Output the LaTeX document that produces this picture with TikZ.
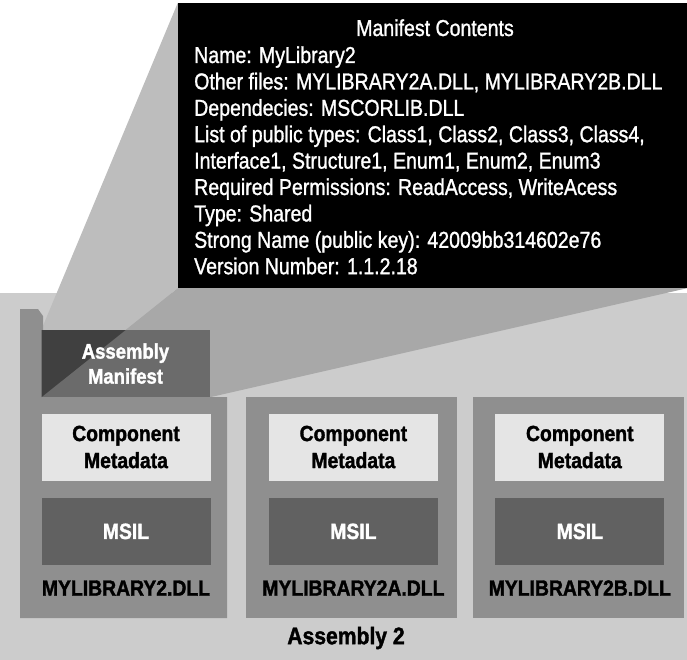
\documentclass[tikz,border=0pt]{standalone}
\usepackage{fontspec}
\setmainfont{Liberation Sans}[FakeStretch=0.85, FakeBold=1.2]
\newfontfamily\labelfont{Liberation Sans}[FakeStretch=0.88, FakeBold=1.5]
\usetikzlibrary{positioning,backgrounds}

\definecolor{panelgray}{gray}{0.80}
\definecolor{beamside}{gray}{0.74}
\definecolor{beambase}{gray}{0.66}
\definecolor{framegray}{gray}{0.56}
\definecolor{manigray}{gray}{0.42}
\definecolor{manidark}{gray}{0.25}
\definecolor{metagray}{gray}{0.90}
\definecolor{msilgray}{gray}{0.38}

\tikzset{
  entry/.style={anchor=base west, inner sep=0pt, text=white,
    font=\fontsize{23}{26.4}\selectfont},
  frame/.style={fill=framegray, minimum width=211pt, minimum height=221pt,
    inner sep=0pt},
  box/.style={minimum width=169pt, minimum height=67pt, inner sep=0pt,
    align=center},
  metabox/.style={box, fill=metagray,
    font=\labelfont\bfseries\fontsize{22}{27}\selectfont},
  msilbox/.style={box, fill=msilgray, text=white,
    font=\labelfont\bfseries\fontsize{22}{27}\selectfont},
  manibox/.style={box, fill=manigray, text=white, minimum width=168pt,
    font=\labelfont\bfseries\fontsize{21}{25}\selectfont},
  dllname/.style={inner sep=0pt,
    font=\labelfont\bfseries\fontsize{22}{27}\selectfont}
}

\begin{document}
\begin{tikzpicture}[x=1pt, y=-1pt]
  \useasboundingbox (0,0) rectangle (687,660);

  % manifest contents
  \node [fill=black, minimum width=509pt, minimum height=285pt,
    inner sep=0pt] (contents) at (432.5,145.5) {};
  \node [entry, anchor=base] (title) at (435,36) {Manifest Contents};
  \node [entry] (name) at (194,63) {Name: MyLibrary2};
  \node [entry] (other) at ([yshift=-26.4pt]name.base west)
    {Other files: MYLIBRARY2A.DLL, MYLIBRARY2B.DLL};
  \node [entry] (deps) at ([yshift=-26.4pt]other.base west)
    {Dependecies: MSCORLIB.DLL};
  \node [entry] (types) at ([yshift=-26.4pt]deps.base west)
    {List of public types: Class1, Class2, Class3, Class4,};
  \node [entry] (types2) at ([yshift=-26.4pt]types.base west)
    {Interface1, Structure1, Enum1, Enum2, Enum3};
  \node [entry] (perms) at ([yshift=-26.4pt]types2.base west)
    {Required Permissions: ReadAccess, WriteAcess};
  \node [entry] (type) at ([yshift=-26.4pt]perms.base west)
    {Type: Shared};
  \node [entry] (strong) at ([yshift=-26.4pt]type.base west)
    {Strong Name (public key): 42009bb314602e76};
  \node [entry] (version) at ([yshift=-26.4pt]strong.base west)
    {Version Number: 1.1.2.18};

  % the three files
  \fill [framegray] (20,309) -- (38,309) -- (43,316) -- (43,397)
    -- (227,397) -- (227,618) -- (20,618) -- cycle;
  \node [frame] (frame2a) at (351,507.5) {};
  \node [frame] (frame2b) at (578,507.5) {};

  \node [metabox] (meta1) at (126,447) {Component\\Metadata};
  \node [metabox, right=58pt of meta1] (meta2) {Component\\Metadata};
  \node [metabox, right=57pt of meta2] (meta3) {Component\\Metadata};

  \node [msilbox, below=17pt of meta1] (msil1) {MSIL};
  \node [msilbox, below=17pt of meta2] (msil2) {MSIL};
  \node [msilbox, below=17pt of meta3] (msil3) {MSIL};

  \node [dllname, below=15pt of msil1] (dll1) {MYLIBRARY2.DLL};
  \node [dllname, below=15pt of msil2] (dll2) {MYLIBRARY2A.DLL};
  \node [dllname, below=15pt of msil3] (dll3) {MYLIBRARY2B.DLL};

  \node [manibox, above=16pt of meta1, xshift=-0.5pt,
    path picture={\fill [manidark] (path picture bounding box.north west)
      -- ([xshift=84pt]path picture bounding box.north west)
      -- (path picture bounding box.south west) -- cycle;}]
    (mani) {Assembly\\Manifest};

  \node [dllname, font=\labelfont\bfseries\fontsize{24}{28}\selectfont]
    (assembly) at (346,638) {Assembly 2};

  % panel and beam
  \begin{scope}[on background layer]
    \fill [panelgray] (0,293) rectangle (687,660);
    \fill [beamside] (contents.north west) -- (mani.north west)
      -- (mani.south west) -- (contents.south west) -- cycle;
    \fill [beambase] (contents.south west) -- (contents.south east)
      -- (mani.south east) -- (mani.south west) -- cycle;
  \end{scope}
\end{tikzpicture}
\end{document}
